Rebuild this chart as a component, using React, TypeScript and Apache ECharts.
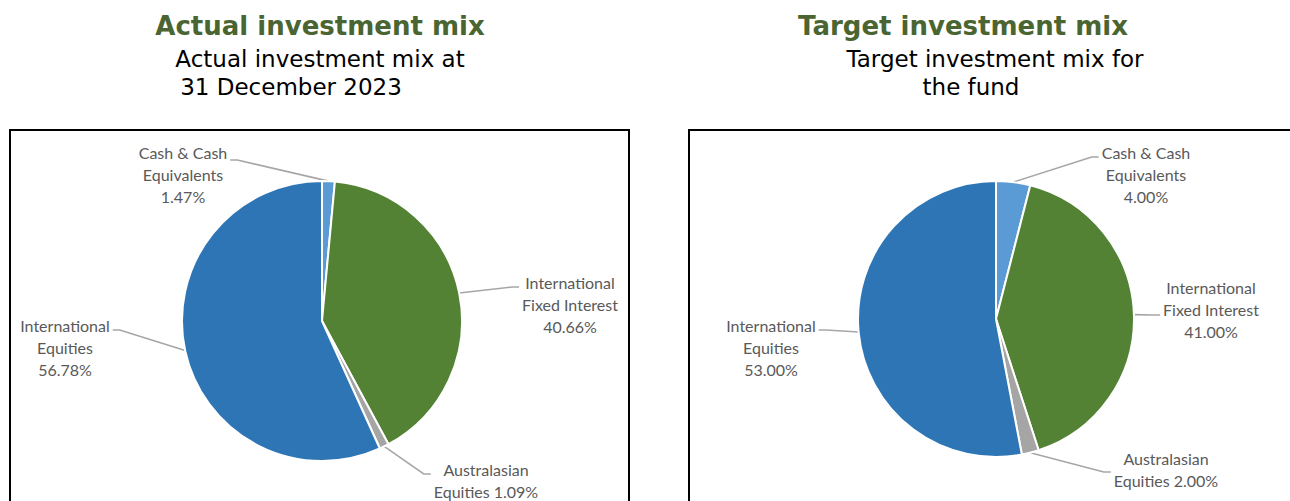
import React, { useEffect, useRef } from "react";
import * as echarts from "echarts";

// ---- data ----
const categories = [
  "Cash & Cash Equivalents",
  "International Fixed Interest",
  "Australasian Equities",
  "International Equities",
];
const labelTemplates = [
  "Cash & Cash\nEquivalents\n{v}%",
  "International\nFixed Interest\n{v}%",
  "Australasian\nEquities {v}%",
  "International\nEquities\n{v}%",
];
const actualValues = [1.47, 40.66, 1.09, 56.78];
const targetValues = [4.0, 41.0, 2.0, 53.0];
const chartTitles = ["Actual investment mix", "Target investment mix"];
const actualSubtitle = ["Actual investment mix at", "31 December 2023"];
const targetSubtitle = ["Target investment mix for", "the fund"];

// ---- styles / layout ----
const sliceColors = ["#5B9BD5", "#548235", "#A5A5A5", "#2E75B6"];
const titleColor = "#4A6531";
const labelColor = "#595959";
const leaderColor = "#A6A6A6";

const layouts = [
  {
    values: actualValues,
    title: chartTitles[0],
    subtitle: actualSubtitle,
    center: [322, 321],
    radius: 140,
    box: [10, 130, 619, 420],
    titlePos: [320, 26],
    subPos: [
      [320, 59],
      [291, 87],
    ],
    // label centre x, label top y, leader attach offset from top
    labels: [
      [183, 141, 19],
      [570, 271, 16],
      [486, 458, 16],
      [65, 314, 16],
    ],
  },
  {
    values: targetValues,
    title: chartTitles[1],
    subtitle: targetSubtitle,
    center: [996, 319],
    radius: 138,
    box: [689, 130, 700, 420],
    titlePos: [963, 26],
    subPos: [
      [995, 59],
      [971, 87],
    ],
    labels: [
      [1146, 141, 16],
      [1211, 276, 39],
      [1166, 447, 25],
      [771, 314, 16],
    ],
  },
];

export default function App() {
  const ref = useRef<HTMLDivElement>(null);

  useEffect(() => {
    if (!ref.current) return;
    const chart = echarts.init(ref.current, null, { renderer: "svg" });

    const graphics: any[] = [];
    layouts.forEach((l) => {
      graphics.push({
        type: "rect",
        shape: { x: l.box[0], y: l.box[1], width: l.box[2], height: l.box[3] },
        style: { fill: "none", stroke: "#000", lineWidth: 2 },
        z: 0,
      });
      graphics.push({
        type: "text",
        x: l.titlePos[0],
        y: l.titlePos[1],
        style: {
          text: l.title,
          fill: titleColor,
          fontFamily: "DejaVu Sans",
          fontWeight: "bold",
          fontSize: 26,
          align: "center",
          verticalAlign: "middle",
        },
      });
      l.subtitle.forEach((s, i) => {
        graphics.push({
          type: "text",
          x: l.subPos[i][0],
          y: l.subPos[i][1],
          style: {
            text: s,
            fill: "#000",
            fontFamily: "DejaVu Sans",
            fontSize: 23,
            align: "center",
            verticalAlign: "middle",
          },
        });
      });
    });

    const series = layouts.map((l) => ({
      type: "pie",
      center: l.center,
      radius: l.radius,
      startAngle: 90,
      clockwise: true,
      avoidLabelOverlap: false,
      data: categories.map((name, i) => ({
        name,
        value: l.values[i],
        itemStyle: { color: sliceColors[i] },
      })),
      itemStyle: { borderColor: "#ffffff", borderWidth: 2 },
      label: {
        show: true,
        position: "outside",
        color: labelColor,
        fontFamily: "Lato",
        fontSize: 16,
        lineHeight: 22,
        align: "center",
        formatter: (p: any) =>
          labelTemplates[p.dataIndex].replace("{v}", Number(p.value).toFixed(2)),
      },
      labelLine: {
        show: true,
        length: 10,
        length2: 10,
        lineStyle: { color: leaderColor, width: 1.6 },
      },
      labelLayout: (params: any) => {
        const [lx, ly, dy] = l.labels[params.dataIndex];
        const w = params.labelRect.width;
        const res: any = { x: lx, y: ly, align: "center", verticalAlign: "top" };
        const pts = params.labelLinePoints;
        if (pts && pts.length) {
          const start = pts[0];
          const toLeft = start[0] < lx;
          const endX = toLeft ? lx - w / 2 - 3 : lx + w / 2 + 3;
          const endY = ly + dy;
          const elbowX = toLeft ? endX - 7 : endX + 7;
          res.labelLinePoints = [
            [start[0], start[1]],
            [elbowX, endY],
            [endX, endY],
          ];
        }
        return res;
      },
      emphasis: { disabled: true },
    }));

    chart.setOption({
      animation: false,
      backgroundColor: "#ffffff",
      graphic: graphics,
      series,
    });

    return () => chart.dispose();
  }, []);

  return (
    <div
      ref={ref}
      style={{ position: "fixed", left: 0, top: 0, width: 1290, height: 501 }}
    />
  );
}
